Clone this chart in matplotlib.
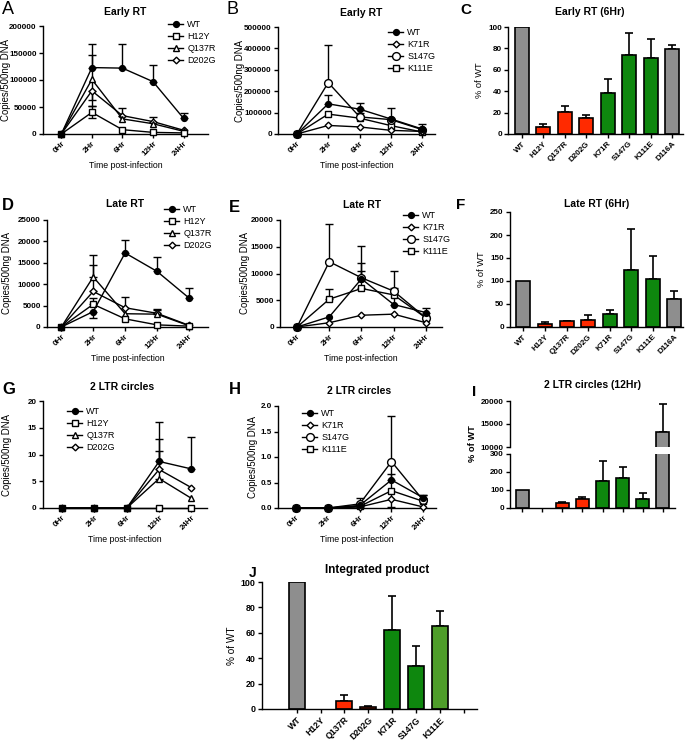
import numpy as np
import matplotlib
matplotlib.use('Agg')
import matplotlib.pyplot as plt
from matplotlib.lines import Line2D

plt.rcParams['font.family'] = ['Liberation Sans', 'DejaVu Sans']
plt.rcParams['font.weight'] = 'bold'
plt.rcParams['axes.linewidth'] = 1.0

# ---- data ----
times = ['0Hr', '2Hr', '6Hr', '12Hr', '24Hr']
mutants = ['WT', 'H12Y', 'Q137R', 'D202G', 'K71R', 'S147G', 'K111E', 'D116A']

# A: early RT, group 1  (value, upper err, lower err)
a_wt = [0, 123000, 122000, 97000, 29000]
a_wt_up = [0, 44000, 45000, 31000, 9500]
a_wt_lo = [0, 0, 0, 0, 0]
a_h12y = [0, 40000, 8000, 3000, 2000]
a_h12y_up = [0, 12000, 0, 0, 0]
a_h12y_lo = [0, 11000, 0, 0, 0]
a_q137r = [0, 101000, 28000, 19000, 5000]
a_q137r_up = [0, 45000, 0, 0, 0]
a_q137r_lo = [0, 38000, 0, 0, 0]
a_d202g = [0, 80000, 34000, 23000, 7000]
a_d202g_up = [0, 0, 15000, 8000, 0]
a_d202g_lo = [0, 28000, 0, 0, 0]

# B: early RT, group 2
b_wt = [0, 141000, 116000, 70000, 23000]
b_wt_up = [0, 42000, 31000, 50000, 23000]
b_k71r = [0, 40000, 33000, 17000, 12000]
b_k71r_up = [0, 14000, 0, 0, 0]
b_s147g = [0, 240000, 80000, 67000, 20000]
b_s147g_up = [0, 175000, 20000, 0, 0]
b_k111e = [0, 93000, 74000, 39000, 9000]
b_k111e_up = [0, 0, 0, 0, 0]

# C: early RT 6Hr, % of WT
c_vals = [100, 7, 21, 15, 38, 74, 71, 79]
c_err = [0, 2.5, 5, 3, 13, 20, 18, 4]

# D: late RT, group 1
d_wt = [0, 3600, 17300, 13000, 6800]
d_wt_up = [0, 0, 3000, 3400, 2200]
d_wt_lo = [0, 1600, 0, 0, 0]
d_h12y = [0, 5300, 1900, 500, 200]
d_h12y_up = [0, 1400, 0, 0, 0]
d_q137r = [0, 11700, 3100, 3000, 300]
d_q137r_up = [0, 5100, 0, 1100, 0]
d_d202g = [0, 8300, 4500, 3200, 400]
d_d202g_up = [0, 6300, 2500, 800, 0]

# E: late RT, group 2
e_wt = [0, 1900, 9000, 4200, 2700]
e_wt_up = [0, 0, 3000, 3100, 900]
e_k71r = [0, 800, 2200, 2400, 800]
e_k71r_up = [0, 0, 0, 0, 0]
e_s147g = [0, 12200, 9200, 6700, 1700]
e_s147g_up = [0, 7100, 6000, 3700, 0]
e_k111e = [0, 5200, 7200, 6000, 1700]
e_k111e_up = [0, 1900, 3200, 0, 0]

# F: late RT 6Hr
f_vals = [100, 7, 12, 15, 28, 125, 104, 60]
f_err = [0, 3, 2, 10, 8, 87, 50, 18]

# G: 2 LTR circles, group 1
g_wt = [0, 0, 0, 8.7, 7.3]
g_wt_up = [0, 0, 0, 7.4, 5.9]
g_h12y = [0, 0, 0, 0, 0]
g_q137r = [0, 0, 0, 5.5, 1.8]
g_q137r_up = [0, 0, 0, 5.1, 0]
g_d202g = [0, 0, 0, 7.2, 3.8]
g_d202g_up = [0, 0, 0, 5.7, 0]

# H: 2 LTR circles, group 2
h_wt = [0, 0, 0.05, 0.55, 0.2]
h_wt_up = [0, 0, 0, 0.12, 0.05]
h_k71r = [0, 0, 0.02, 0.17, 0.02]
h_s147g = [0, 0, 0.08, 0.91, 0.15]
h_s147g_up = [0, 0, 0.12, 0.89, 0]
h_s147g_lo = [0, 0, 0, 0.89, 0]
h_k111e = [0, 0, 0.03, 0.34, 0.13]
h_k111e_up = [0, 0, 0, 0, 0.12]

# I: 2 LTR circles 12Hr
i_vals = [100, 0, 30, 50, 150, 165, 48, 13300]
i_err = [0, 0, 5, 11, 110, 62, 37, 6100]

# J: integrated product
j_labels = ['WT', 'H12Y', 'Q137R', 'D202G', 'K71R', 'S147G', 'K111E', '']
j_vals = [100, 0, 6, 1.5, 62, 34, 65.5]
j_err = [0, 0, 5, 1.2, 27, 16, 12]

GRAY = '#8e8e8e'
RED = '#ff2a00'
GREEN = '#0e870e'
LGREEN = '#4f9e2a'
bar_colors = [GRAY, RED, RED, RED, GREEN, GREEN, GREEN, GRAY]
j_colors = [GRAY, RED, RED, RED, GREEN, GREEN, LGREEN]

styles = {'WT': ('o', 'black', 4.2), 'H12Y': ('s', 'white', 4.6),
          'Q137R': ('^', 'white', 5.0), 'D202G': ('D', 'white', 3.4),
          'K71R': ('D', 'white', 3.4), 'S147G': ('o', 'white', 5.6),
          'K111E': ('s', 'white', 4.8)}

W, H = 685, 744
fig = plt.figure(figsize=(6.85, 7.44), dpi=100)


def box(l, t, r, b):
    return [l / W, 1 - b / H, (r - l) / W, (b - t) / H]


def fxy(x, y):
    return x / W, 1 - y / H


def style_ax(ax):
    for s in ['top', 'right']:
        ax.spines[s].set_visible(False)
    ax.tick_params(direction='out', length=3, width=1, labelsize=5.8, pad=1.5)


def line_panel(rect, series, ylim, yticks, xlim, leg_at, ylab_x, fmt=None):
    ax = fig.add_axes(box(*rect))
    x = np.arange(len(times))
    for name, vals, up, lo in series:
        up = np.asarray(up, float)
        lo = np.asarray(lo, float) if lo is not None else np.zeros(len(x))
        m = (up > 0) | (lo > 0)
        if m.any():
            ax.errorbar(x[m], np.asarray(vals, float)[m], yerr=[lo[m], up[m]], fmt='none',
                        ecolor='black', elinewidth=1, capsize=2.8, capthick=1,
                        clip_on=False, zorder=2)
    for name, vals, up, lo in series[::-1]:
        mk, fc, ms = styles[name]
        ax.plot(x, vals, color='black', lw=1, marker=mk, mfc=fc, mec='black',
                mew=1, ms=ms, clip_on=False, zorder=3)
    ax.set_xlim(*xlim)
    ax.set_ylim(*ylim)
    ax.set_yticks(yticks)
    if fmt:
        ax.set_yticklabels([fmt % v for v in yticks])
    else:
        ax.set_yticklabels([str(int(v)) for v in yticks])
    ax.set_xticks(x)
    ax.set_xticklabels(times, rotation=45, ha='right', rotation_mode='anchor')
    style_ax(ax)
    ax.set_ylabel('Copies/500ng DNA', fontsize=6.9)
    ax.yaxis.set_label_coords((ylab_x - rect[0]) / (rect[2] - rect[0]), 0.5)
    ax.set_xlabel('Time post-infection', fontsize=6.3, labelpad=2)
    handles = []
    for name, vals, up, lo in series:
        mk, fc, ms = styles[name]
        handles.append(Line2D([], [], color='black', lw=1, marker=mk, mfc=fc,
                              mec='black', ms=ms))
    ax.legend(handles, [s[0] for s in series], loc='upper left',
              bbox_to_anchor=fxy(*leg_at), bbox_transform=fig.transFigure,
              frameon=False, borderpad=0, borderaxespad=0, handlelength=1.7,
              handletextpad=0.45, labelspacing=0.32,
              prop={'size': 6.5, 'weight': 'normal'})
    return ax


def bar_panel(ax, vals, errs, colors, labels, xlim, width=0.65):
    vals = np.asarray(vals, float)
    errs = np.asarray(errs, float)
    x = np.arange(len(vals))
    nz = vals > 0
    ax.bar(x[nz], vals[nz], width=width, color=[c for c, k in zip(colors, nz) if k],
           edgecolor='black', linewidth=1.2, zorder=2)
    m = errs > 0
    ax.errorbar(x[m], vals[m], yerr=[np.zeros(m.sum()), errs[m]], fmt='none',
                ecolor='black', elinewidth=1.2, capsize=3, capthick=1.2, zorder=1)
    ax.set_xlim(*xlim)
    ax.set_xticks(np.arange(len(labels)))
    ax.set_xticklabels(labels, rotation=45, ha='right', rotation_mode='anchor')
    style_ax(ax)


# ---- A ----
line_panel((43, 26, 208, 134),
           [('WT', a_wt, a_wt_up, a_wt_lo), ('H12Y', a_h12y, a_h12y_up, a_h12y_lo),
            ('Q137R', a_q137r, a_q137r_up, a_q137r_lo), ('D202G', a_d202g, a_d202g_up, a_d202g_lo)],
           (0, 200000), [0, 50000, 100000, 150000, 200000], (-0.6, 4.8), (168, 20), 11)
# ---- B ----
line_panel((278, 27, 435, 134),
           [('WT', b_wt, b_wt_up, None), ('K71R', b_k71r, [0] * 5, None),
            ('S147G', b_s147g, b_s147g_up, None), ('K111E', b_k111e, b_k111e_up, None)],
           (0, 500000), [0, 100000, 200000, 300000, 400000, 500000], (-0.6, 4.4), (388, 28), 245)
# ---- D ----
line_panel((47, 220, 208, 327),
           [('WT', d_wt, d_wt_up, d_wt_lo), ('H12Y', d_h12y, d_h12y_up, None),
            ('Q137R', d_q137r, d_q137r_up, None), ('D202G', d_d202g, d_d202g_up, None)],
           (0, 25000), [0, 5000, 10000, 15000, 20000, 25000], (-0.45, 4.6), (164, 205), 12)
# ---- E ----
line_panel((280, 220, 442, 327),
           [('WT', e_wt, e_wt_up, None), ('K71R', e_k71r, e_k71r_up, None),
            ('S147G', e_s147g, e_s147g_up, None), ('K111E', e_k111e, e_k111e_up, None)],
           (0, 20000), [0, 5000, 10000, 15000, 20000], (-0.53, 4.5), (403, 211), 250)
# ---- G ----
line_panel((43, 401, 207, 508),
           [('WT', g_wt, g_wt_up, None), ('H12Y', g_h12y, [0] * 5, None),
            ('Q137R', g_q137r, g_q137r_up, None), ('D202G', g_d202g, g_d202g_up, None)],
           (0, 20), [0, 5, 10, 15, 20], (-0.59, 4.48), (67, 407), 12)
# ---- H ----
line_panel((278, 406, 436, 508),
           [('WT', h_wt, h_wt_up, None), ('K71R', h_k71r, [0] * 5, None),
            ('S147G', h_s147g, h_s147g_up, h_s147g_lo), ('K111E', h_k111e, h_k111e_up, None)],
           (0, 2.0), [0, 0.5, 1.0, 1.5, 2.0], (-0.57, 4.4), (302, 409), 258, fmt='%.1f')

# ---- C ----
axc = fig.add_axes(box(508, 27, 683, 134))
bar_panel(axc, c_vals, c_err, bar_colors, mutants, (-0.65, 7.5))
axc.set_ylim(0, 100)
axc.set_yticks([0, 20, 40, 60, 80, 100])
axc.set_ylabel('% of WT', fontsize=6.7, labelpad=3)

# ---- F ----
axf = fig.add_axes(box(510, 212, 683, 327))
bar_panel(axf, f_vals, f_err, bar_colors, mutants, (-0.62, 7.4))
axf.set_ylim(0, 250)
axf.set_yticks([0, 50, 100, 150, 200, 250])
axf.set_ylabel('% of WT', fontsize=6.7, labelpad=3)

# ---- I (broken axis) ----
axi_top = fig.add_axes(box(510, 401, 675, 447))
axi_bot = fig.add_axes(box(510, 454, 675, 508))
xi = np.arange(len(i_vals))
iv = np.asarray(i_vals, float)
ie = np.asarray(i_err, float)
nz = iv > 0
for ax in (axi_top, axi_bot):
    ax.bar(xi[nz], iv[nz], width=0.65, color=[c for c, k in zip(bar_colors, nz) if k],
           edgecolor='black', linewidth=1.2, zorder=2)
    ax.set_xlim(-0.6, 7.6)
    style_ax(ax)
mt = iv > 10000
axi_top.errorbar(xi[mt], iv[mt], yerr=[np.zeros(mt.sum()), ie[mt]], fmt='none',
                 ecolor='black', elinewidth=1.2, capsize=3, capthick=1.2, zorder=1)
mb = (ie > 0) & (iv < 300)
axi_bot.errorbar(xi[mb], iv[mb], yerr=[np.zeros(mb.sum()), ie[mb]], fmt='none',
                 ecolor='black', elinewidth=1.2, capsize=3, capthick=1.2, zorder=1)
axi_top.set_ylim(10000, 20000)
axi_top.set_yticks([10000, 15000, 20000])
axi_top.spines['bottom'].set_visible(False)
axi_top.set_xticks([])
axi_bot.set_ylim(0, 300)
axi_bot.set_yticks([0, 100, 200, 300])
axi_bot.set_xticks(xi)
axi_bot.set_xticklabels([])
fig.text(*fxy(473, 444), '% of WT', rotation=90, fontsize=6.7, ha='center', va='center')

# ---- J ----
axj = fig.add_axes(box(262, 582, 477, 709))
bar_panel(axj, j_vals, j_err, j_colors, j_labels, (-1.45, 7.55), width=0.67)
axj.set_ylim(0, 100)
axj.set_yticks([0, 20, 40, 60, 80, 100])
axj.tick_params(labelsize=6.4)
axj.set_ylabel('% of WT', fontsize=7.2, labelpad=3)

# ---- titles and panel letters ----
titles = [('Early RT', 125, 12), ('Early RT', 361, 13), ('Early RT (6Hr)', 590, 12),
          ('Late RT', 125, 204), ('Late RT', 362, 205), ('Late RT (6Hr)', 597, 204),
          ('2 LTR circles', 122, 387), ('2 LTR circles', 359, 391),
          ('2 LTR circles (12Hr)', 593, 385)]
for t, x, y in titles:
    fig.text(*fxy(x, y), t, fontsize=7.5, ha='center', va='center')
fig.text(*fxy(377, 570), 'Integrated product', fontsize=8.5, ha='center', va='center')

letters = [('A', 2, 10, 'normal', 13), ('B', 227, 9, 'normal', 13), ('C', 460, 10, 'bold', 11),
           ('D', 2, 205, 'bold', 12), ('E', 229, 208, 'bold', 12), ('F', 456, 205, 'bold', 11),
           ('G', 2, 390, 'bold', 12), ('H', 229, 390, 'bold', 12), ('I', 472, 392, 'bold', 11),
           ('J', 249, 573, 'bold', 10)]
for t, x, y, w, s in letters:
    fig.text(*fxy(x, y), t, fontsize=s, fontweight=w, ha='left', va='center')

fig.savefig('out.png', dpi=100)
